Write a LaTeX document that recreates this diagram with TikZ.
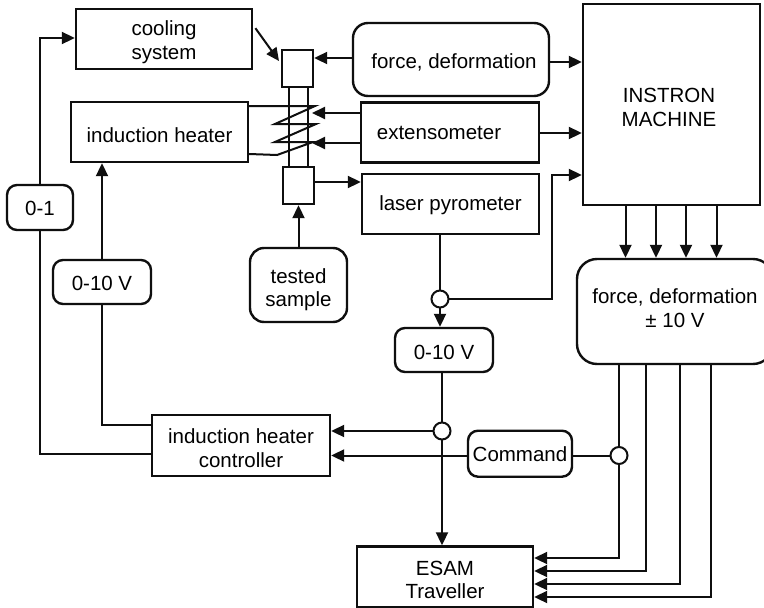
\documentclass[tikz,border=0pt]{standalone}
\usepackage{fontspec}
\setmainfont{Liberation Sans}
\usetikzlibrary{arrows.meta}

\begin{document}
\begin{tikzpicture}[x=1pt,y=-1pt,line cap=rect]
	\definecolor{custcol_line}{RGB}{15, 15, 15}
	\def\topgap#1{\rule{0pt}{#1}}
	\tikzset{
		blockbox/.style={draw=custcol_line, line width=2.4pt, inner sep=0, align=center, font=\fontsize{20.5pt}{23.5pt}\selectfont},
		softbox/.style={blockbox, rounded corners=10pt},
		bigsoftbox/.style={blockbox, rounded corners=#1},
		oneline/.style={text depth=4pt, text height=#1},
		junction/.style={circle, draw=custcol_line, line width=2pt, fill=white, inner sep=0, minimum size=17pt},
		wire/.style={draw=custcol_line, line width=2pt},
		feed/.style={wire, -{Triangle[length=13pt,width=12pt]}}
	}
	\useasboundingbox (0,0) rectangle (764,608);
	\fill[white] (0,0) rectangle (764,608);
	% blocks
	\node[blockbox, minimum width=176pt, minimum height=60pt] (cooling) at (164,39) {\topgap{21pt}cooling\\system};
	\node[blockbox, oneline=24.4pt, minimum width=177pt, minimum height=60pt] (heater) at (159.5,132) {induction heater};
	\node[softbox, oneline=19pt, minimum width=66pt, minimum height=45pt] (logic) at (40,207.5) {0-1};
	\node[softbox, oneline=21.4pt, minimum width=98pt, minimum height=44pt] (voltleft) at (102,282) {0-10 V};
	\node[softbox, rounded corners=14pt, minimum width=97pt, minimum height=74pt] (sample) at (298.5,285) {\topgap{24pt}tested\\sample};
	\node[bigsoftbox=15pt, oneline=21pt, minimum width=196pt, minimum height=73pt] (force) at (451,59.5) {\hspace*{6pt}force, deformation};
	\node[blockbox, oneline=17pt, minimum width=178pt, minimum height=60pt] (extenso) at (450,132.5) {extensometer\hspace*{22pt}};
	\node[blockbox, oneline=16pt, minimum width=177pt, minimum height=60pt] (laser) at (450.5,204) {laser pyrometer};
	\node[blockbox, minimum width=177pt, minimum height=201pt] (instron) at (671.5,104.5) {\topgap{20pt}INSTRON\hspace*{5pt}\\MACHINE\hspace*{5pt}};
	\node[bigsoftbox=20pt, minimum width=196pt, minimum height=105pt] (signals) at (675,311.5) {force, deformation\\± 10 V\rule[-7pt]{0pt}{7pt}};
	\node[softbox, oneline=22pt, minimum width=98pt, minimum height=44pt] (voltmid) at (444,350) {0-10 V};
	\node[blockbox, minimum width=178pt, minimum height=61pt] (controller) at (241,445.5) {\topgap{20pt}induction heater\\controller};
	\node[softbox, oneline=20pt, minimum width=104pt, minimum height=46pt] (command) at (520,453.7) {Command};
	\node[blockbox, minimum width=176pt, minimum height=61pt] (esam) at (445,577) {\topgap{20pt}ESAM\\Traveller};
	% sample holder
	\node[blockbox, minimum width=31pt, minimum height=37pt] (griptop) at (297.5,68.5) {};
	\node[blockbox, minimum width=31pt, minimum height=37pt] (gripbot) at (298.5,185.5) {};
	\draw[wire] (griptop.south -| 289,0) -- (gripbot.north -| 289,0);
	\draw[wire] (griptop.south -| 307.5,0) -- (gripbot.north -| 307.5,0);
	\draw[wire] (heater.east |- 0,106) -- (315,106) -- (275,124) -- (316,124) -- (275,142) -- (313,142) -- (277,155) -- (heater.east |- 0,154);
	% junctions
	\node[junction] (joinlaser) at (440,299) {};
	\node[junction] (joinvolt) at (442,431) {};
	\node[junction] (joincmd) at (619,455.5) {};
	% cooling and heating side
	\coordinate (coolstart) at (256,29);
	\coordinate (coolend) at (279,61);
	\draw[feed] (coolstart) -- (coolend);
	\draw[wire] (controller.west |- 0,454) -- (logic.south |- 0,454) -- (logic.south);
	\draw[feed] (logic.north) -- (logic.north |- 0,38) -- (cooling.west |- 0,38);
	\draw[wire] (controller.west |- 0,425) -- (voltleft.south |- 0,425) -- (voltleft.south);
	\draw[feed] (voltleft.north) -- (heater.south -| voltleft.north);
	% sample and sensors
	\draw[feed] (sample.north) -- (gripbot.south);
	\draw[feed] (force.west |- 0,58) -- (griptop.east |- 0,58);
	\draw[feed] (force.east |- 0,62) -- (instron.west |- 0,62);
	\draw[feed] (extenso.west |- 0,113) -- (312,113);
	\draw[feed] (extenso.west |- 0,143) -- (312,143);
	\draw[feed] (extenso.east |- 0,133) -- (instron.west |- 0,133);
	\draw[feed] (gripbot.east |- 0,182) -- (laser.west |- 0,182);
	% temperature signal
	\draw[wire] (laser.south -| joinlaser) -- (joinlaser);
	\draw[feed] (joinlaser) -- (voltmid.north -| joinlaser);
	\draw[feed] (joinlaser) -- (552,299) -- (552,175) -- (instron.west |- 0,175);
	\draw[wire] (voltmid.south -| joinvolt) -- (joinvolt);
	\draw[feed] (joinvolt) -- (controller.east |- joinvolt);
	\draw[feed] (joinvolt) -- (esam.north -| joinvolt);
	% command
	\draw[feed] (command.west |- joincmd) -- (controller.east |- joincmd);
	\draw[wire] (command.east |- joincmd) -- (joincmd);
	% machine outputs
	\foreach \outx in {625.5,656,686,716.5} {
		\draw[feed] (instron.south -| \outx,0) -- (signals.north -| \outx,0);
	}
	\draw[wire] (signals.south -| joincmd) -- (joincmd);
	\draw[feed] (joincmd) -- (619,558) -- (esam.east |- 0,558);
	\draw[feed] (signals.south -| 646,0) -- (646,571) -- (esam.east |- 0,571);
	\draw[feed] (signals.south -| 680,0) -- (680,584) -- (esam.east |- 0,584);
	\draw[feed] (signals.south -| 711,0) -- (711,597) -- (esam.east |- 0,597);
\end{tikzpicture}
\end{document}
